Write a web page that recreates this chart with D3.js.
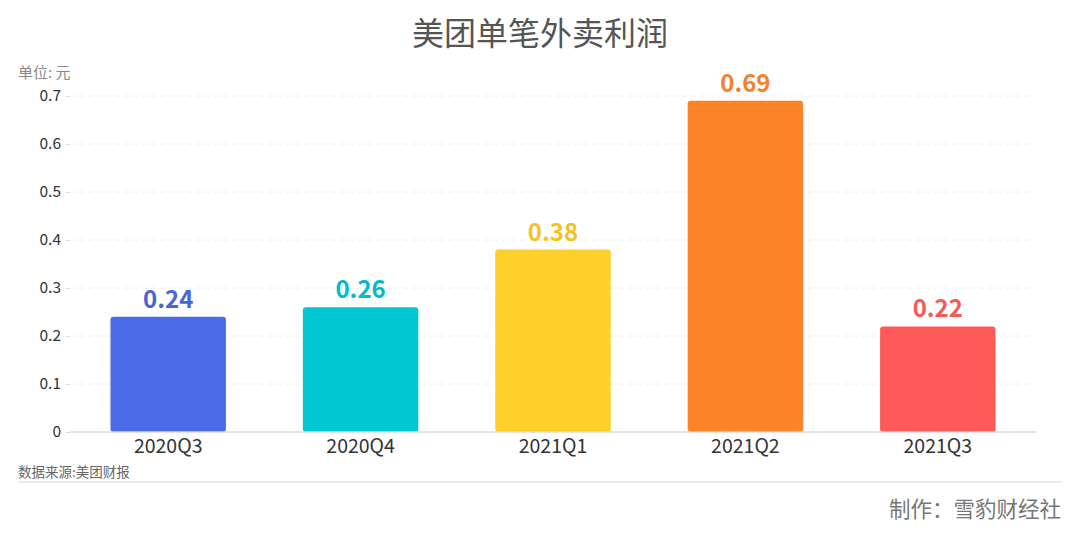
<!DOCTYPE html>
<html><head><meta charset="utf-8">
<script src="https://cdn.jsdelivr.net/npm/d3@7"></script>
<style>
body{margin:0;background:#fff;}
text{font-family:"Noto Sans CJK SC","Noto Sans",sans-serif;}
</style></head>
<body><svg id="c" width="1080" height="540"></svg>
<script>
const categories = ["2020Q3","2020Q4","2021Q1","2021Q2","2021Q3"];
const values = [0.24,0.26,0.38,0.69,0.22];
const colors = ["#4A6CE8","#00C7D2","#FCCF2A","#FD8328","#FF5A5A"];
const labelColors = ["#4A64D8","#00BCC8","#F5C222","#F5822A","#F55A55"];
const yTicks = [0,0.1,0.2,0.3,0.4,0.5,0.6,0.7];

const svg = d3.select("#c");
const x = d3.scaleBand().domain(categories).range([72,1034]).paddingInner(0.4).paddingOuter(0.2);
const y = d3.scaleLinear().domain([0,0.7]).range([432,96]);

svg.append("text").attr("x",540).attr("y",45).attr("text-anchor","middle")
  .attr("font-size",32).attr("fill","#555").text("美团单笔外卖利润");
svg.append("text").attr("x",18).attr("y",78).attr("font-size",15).attr("fill","#888").text("单位: 元");

// grid
svg.append("g").selectAll("line").data(yTicks.filter(d=>d>0)).join("line")
  .attr("x1",70).attr("x2",1036).attr("y1",d=>y(d)).attr("y2",d=>y(d))
  .attr("stroke","#eee").attr("stroke-dasharray","5,4");

const ya = svg.append("g").attr("transform","translate(70,0)")
  .call(d3.axisLeft(y).tickValues(yTicks).tickFormat(d=>d===0?"0":d3.format(".1f")(d)).tickSize(4).tickPadding(5));
ya.select(".domain").remove();
ya.selectAll(".tick line").attr("stroke","#ddd");
ya.selectAll("text").attr("font-size",15.5).attr("fill","#333").attr("font-family","'Noto Sans','Noto Sans CJK SC',sans-serif");

svg.append("g").selectAll("rect").data(values).join("rect")
  .attr("x",(d,i)=>x(categories[i])).attr("width",x.bandwidth())
  .attr("y",d=>y(d)).attr("height",d=>y(0)-y(d)).attr("rx",3).attr("fill",(d,i)=>colors[i]);

svg.append("g").selectAll("text").data(values).join("text")
  .attr("x",(d,i)=>x(categories[i])+x.bandwidth()/2).attr("y",d=>y(d)-9)
  .attr("text-anchor","middle").attr("font-size",24).attr("font-weight","bold")
  .attr("font-family","'DejaVu Sans Condensed','Roboto Condensed',Roboto,sans-serif")
  .attr("fill",(d,i)=>labelColors[i]).text(d=>d3.format(".2f")(d));

const xa = svg.append("g").attr("transform","translate(0,432)")
  .call(d3.axisBottom(x).tickSize(0).tickPadding(7));
xa.select(".domain").attr("stroke","#ddd").attr("stroke-width",1.5).attr("d","M70,0H1036");
xa.selectAll("text").attr("font-size",19.5).attr("fill","#333").attr("font-family","'Noto Sans','Noto Sans CJK SC',sans-serif");

svg.append("text").attr("x",18).attr("y",477).attr("font-size",13.5).attr("fill","#666").text("数据来源:美团财报");
svg.append("line").attr("x1",18).attr("x2",1062).attr("y1",482).attr("y2",482).attr("stroke","#e3e3e3").attr("stroke-width",1.5);
svg.append("text").attr("x",1061).attr("y",517).attr("text-anchor","end").attr("font-size",21.5).attr("fill","#777").text("制作：雪豹财经社");
</script></body></html>
